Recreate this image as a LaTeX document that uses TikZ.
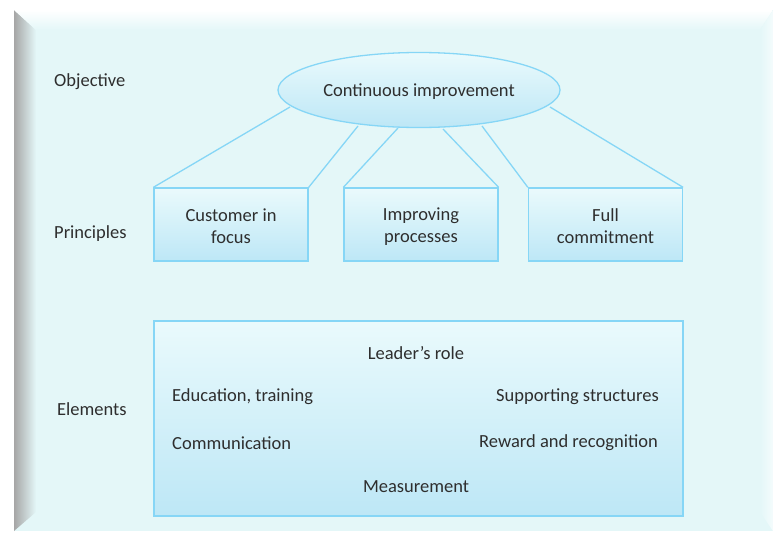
\documentclass[tikz,border=0pt]{standalone}
\usepackage{fontspec}
\setmainfont{Carlito}
\usetikzlibrary{shapes.geometric}
\definecolor{panel}{HTML}{E4F7F8}
\definecolor{edge}{HTML}{86D6F6}
\definecolor{topc}{HTML}{EAFAFC}
\definecolor{botc}{HTML}{BDE7F6}
\definecolor{txt}{HTML}{2E2E2E}
\tikzset{
  box/.style={draw=edge, line width=1.3pt, top color=topc, bottom color=botc, minimum width=154pt, minimum height=73pt, inner sep=0pt},
  lab/.style={text=txt, font=\fontsize{18.5}{22}\selectfont, inner sep=0pt, yshift=-2pt, align=center},
  conn/.style={draw=edge, line width=1.3pt},
}
\begin{document}
\begin{tikzpicture}[x=1pt,y=-1pt]
\useasboundingbox (0,0) rectangle (773,533);
\fill[white] (0,0) rectangle (773,533);
% panel
\fill[panel] (14,10) rectangle (773,531);
\shade[left color=gray!70, right color=panel] (14,10) -- (36,30) -- (36,512) -- (14,531) -- cycle;
\shade[top color=white, bottom color=panel] (14,10) -- (773,10) -- (760,30) -- (36,30) -- cycle;
\shade[left color=panel, right color=white!60!panel] (760,30) -- (773,10) -- (773,531) -- (760,512) -- cycle;
% ellipse
\node[ellipse, draw=edge, line width=1.3pt, top color=topc, bottom color=botc, minimum width=282pt, minimum height=75pt, inner sep=0pt] (obj) at (419,90) {};
\node[lab] (objt) at (obj.center) {Continuous improvement};
% boxes
\node[box] (b1) at (231,224.5) {};
\node[box] (b2) at (421,224.5) {};
\node[box] (b3) at (605.5,224.5) {};
\node[lab] (b1t) at (b1.center) {Customer in\\focus};
\node[lab] (b2t) at (b2.center) {Improving\\processes};
\node[lab] (b3t) at (b3.center) {Full\\commitment};
\node[box, minimum width=529pt, minimum height=195pt] (el) at (418.5,418.5) {};
% connectors
\coordinate (e1) at (290,107);
\coordinate (e2) at (358,126);
\coordinate (e3) at (398,128);
\coordinate (e4) at (443,129);
\coordinate (e5) at (482,126);
\coordinate (e6) at (550,107);
\draw[conn] (e1) -- (b1.north west);
\draw[conn] (e2) -- (b1.north east);
\draw[conn] (e3) -- (b2.north west);
\draw[conn] (e4) -- (b2.north east);
\draw[conn] (e5) -- (b3.north west);
\draw[conn] (e6) -- (b3.north east);
% row labels
\node[lab, anchor=west] (lo) at (54,80) {Objective};
\node[lab, anchor=west] (lp) at (54,232) {Principles};
\node[lab, anchor=west] (le) at (57,407) {Elements};
% elements
\node[lab] (t1) at (416,351) {Leader’s role};
\node[lab, anchor=west] (t2) at (172,395) {Education, training};
\node[lab, anchor=east] (t3) at (659,395) {Supporting structures};
\node[lab, anchor=west] (t4) at (172,441) {Communication};
\node[lab, anchor=east] (t5) at (658,441) {Reward and recognition};
\node[lab] (t6) at (416,485) {Measurement};
\end{tikzpicture}
\end{document}
